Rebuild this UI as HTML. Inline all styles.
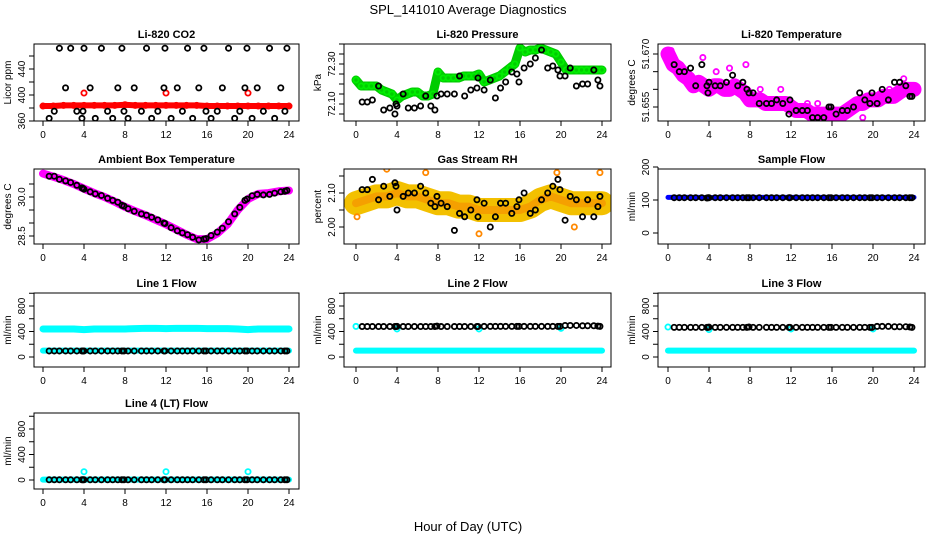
<!DOCTYPE html>
<html><head><meta charset="utf-8"><style>
html,body{margin:0;padding:0;background:#fff}
svg{display:block;font-family:"Liberation Sans",Arial,sans-serif}
</style></head><body>
<svg id="c" width="936" height="540" viewBox="0 0 936 540" xmlns="http://www.w3.org/2000/svg">
<text x="468" y="14" text-anchor="middle" font-size="13">SPL_141010  Average Diagnostics</text>
<text x="468" y="531" text-anchor="middle" font-size="13">Hour of Day (UTC)</text>
</svg>
<script>
const hrsB=[0.6,1.1,1.6,2.2,2.7,3.3,3.8,3.9,4.0,4.6,5.1,5.7,6.3,6.8,7.3,7.7,7.9,8.3,8.9,9.6,10.1,10.6,11.2,11.8,11.9,12.5,13.1,13.6,14.1,14.6,15.2,15.7,15.9,16.4,17.0,17.5,18.1,18.7,19.2,19.7,19.9,20.4,20.9,21.5,22.1,22.6,23.2,23.6,23.8];
const hrsHalf=[0,0.5,1,1.5,2,2.5,3,3.5,4,4.5,5,5.5,6,6.5,7,7.5,8,8.5,9,9.5,10,10.5,11,11.5,12,12.5,13,13.5,14,14.5,15,15.5,16,16.5,17,17.5,18,18.5,19,19.5,20,20.5,21,21.5,22,22.5,23,23.5,24];
const hrsHour=[0,1,2,3,4,5,6,7,8,9,10,11,12,13,14,15,16,17,18,19,20,21,22,23,24];
const xTicks=[0,4,8,12,16,20,24];

const co2C=[383,383,384,384,384,384,384,384,385,384,384,384,384,384,384,384,383,383,383,383,383,383,383,383,383];
const co2SpikeH=[4,12,20], co2SpikeV=[403,403,403];
const co2B=[364,375,472,411,472,375,364,375,472,411,364,472,375,364,411,472,375,364,411,375,472,364,375,411,472,364,411,375,472,364,411,472,375,364,375,411,472,364,375,411,472,364,411,375,472,364,411,375,472];

const pressC=[72.22,72.19,72.19,72.19,72.19,72.17,72.16,72.15,72.12,72.14,72.15,72.16,72.16,72.14,72.14,72.15,72.26,72.23,72.23,72.23,72.23,72.24,72.24,72.24,72.25,72.21,72.22,72.23,72.24,72.26,72.28,72.30,72.38,72.36,72.37,72.37,72.38,72.37,72.36,72.35,72.31,72.27,72.27,72.27,72.27,72.27,72.27,72.27,72.27];
const pressB=[72.11,72.11,72.12,72.19,72.07,72.08,72.05,72.10,72.09,72.15,72.08,72.08,72.09,72.14,72.09,72.07,72.14,72.15,72.15,72.15,72.24,72.14,72.17,72.18,72.23,72.17,72.22,72.13,72.18,72.21,72.26,72.25,72.21,72.28,72.30,72.33,72.37,72.28,72.29,72.27,72.24,72.24,72.28,72.19,72.20,72.20,72.27,72.22,72.19];

const tempC=[51.670,51.667,51.666,51.664,51.663,51.661,51.662,51.661,51.660,51.661,51.661,51.660,51.660,51.661,51.660,51.659,51.657,51.657,51.657,51.656,51.656,51.656,51.656,51.656,51.655,51.654,51.654,51.654,51.653,51.653,51.653,51.653,51.653,51.653,51.653,51.654,51.655,51.656,51.656,51.657,51.657,51.657,51.658,51.658,51.658,51.659,51.660,51.660,51.660];
const tempOutH=[0.3,1.2,3.4,4.7,6.0,7.6,9.0,11.0,13.6,14.6,19.0,21.6,23.0];
const tempOutV=[51.671,51.667,51.669,51.665,51.666,51.667,51.660,51.660,51.656,51.656,51.652,51.660,51.663];
const tempB=[51.667,51.665,51.665,51.666,51.661,51.667,51.661,51.659,51.662,51.661,51.661,51.662,51.664,51.661,51.662,51.660,51.659,51.659,51.656,51.656,51.656,51.657,51.656,51.653,51.657,51.654,51.654,51.654,51.652,51.652,51.652,51.655,51.655,51.653,51.654,51.654,51.655,51.659,51.657,51.656,51.659,51.656,51.660,51.657,51.662,51.662,51.661,51.658,51.658];

const ambC=[30.9,30.78,30.65,30.5,30.32,30.15,30.0,29.82,29.62,29.45,29.3,29.12,28.95,28.75,28.55,28.38,28.38,28.6,28.95,29.5,29.92,30.12,30.15,30.22,30.25];
const ambB=[30.8,30.8,30.68,30.62,30.56,30.45,30.35,30.33,30.3,30.2,30.12,30.06,29.95,29.87,29.8,29.68,29.65,29.55,29.45,29.35,29.3,29.22,29.12,29.0,28.98,28.82,28.7,28.62,28.55,28.45,28.35,28.38,28.4,28.52,28.65,28.8,29.05,29.35,29.6,29.87,29.92,30.05,30.1,30.08,30.1,30.15,30.2,30.22,30.25];

const rhC=[2.07,2.08,2.09,2.09,2.10,2.09,2.09,2.08,2.07,2.07,2.06,2.06,2.05,2.05,2.05,2.05,2.05,2.06,2.08,2.09,2.08,2.07,2.07,2.07,2.07];
const rhOutH=[0.1,3,6.8,7.9,12,15.9,19.6,23.8,21.3];
const rhOutV=[2.03,2.17,2.16,1.94,1.98,1.93,2.16,2.16,2.00];
const rhB=[2.11,2.11,2.14,2.08,2.12,2.09,2.13,2.12,2.05,2.09,2.10,2.10,2.12,2.10,2.07,2.06,2.09,2.07,2.06,1.99,2.04,2.03,2.05,2.08,2.03,2.07,2.00,2.03,2.07,2.07,2.04,2.06,2.08,2.10,2.04,2.05,2.08,2.10,2.12,2.14,2.11,2.02,2.09,2.08,2.03,2.08,2.03,2.06,2.09];

const sampC=[108,108,108,108,107,108,108,108,108,108,108,108,108,108,108,108,108,108,108,108,108,108,108,108,108];
const sampB=[107,107,107,107,107,107,106,107,107,107,107,107,107,107,107,107,107,107,107,107,107,107,107,107,107,107,107,107,107,107,107,107,107,107,107,107,107,107,107,107,107,107,107,107,107,107,107,107,107];

const l1Hi=[440,440,440,440,430,440,440,440,440,445,450,450,445,450,450,450,445,445,445,440,430,440,440,440,440];
const l1Lo=[100,100,100,100,100,100,100,100,100,100,100,100,100,100,100,100,100,100,100,100,100,100,100,100,100];
const l1B=[95,95,95,95,95,95,95,95,95,95,95,95,95,95,95,95,95,95,95,95,95,95,95,95,95,95,95,95,95,95,95,95,95,95,95,95,95,95,95,95,95,95,95,95,95,95,95,95,95];
const l2Lo=[100,100,100,100,100,100,100,100,100,100,100,100,100,100,100,100,100,100,100,100,100,100,100,100,100];
const l2HiH=[0,4,12,20], l2HiV=[480,440,440,450];
const l2B=[478,478,478,478,478,478,478,478,480,478,478,478,478,478,478,478,485,478,478,478,478,478,478,478,478,480,480,480,480,480,480,480,480,480,480,480,480,480,480,480,480,495,495,495,490,490,490,485,480];
const l3Lo=[100,100,100,100,100,100,100,100,100,100,100,100,100,100,100,100,100,100,100,100,100,100,100,100,100];
const l3HiH=[0,4,12,20], l3HiV=[470,430,440,440];
const l3B=[465,465,465,465,465,465,465,465,468,465,465,465,465,465,465,465,470,465,465,465,465,465,465,465,465,465,465,465,465,465,465,465,465,465,465,465,465,465,465,465,465,480,480,480,475,475,475,470,465];
const l4Lo=[5,5,5,5,5,5,5,5,5,5,5,5,5,5,5,5,5,5,5,5,5,5,5,5,5];
const l4SpH=[4,12,20], l4SpV=[130,130,130];
const l4B=[3,3,3,3,3,3,3,3,3,3,3,3,3,3,3,3,3,3,3,3,3,3,3,3,3,3,3,3,3,3,3,3,3,3,3,3,3,3,3,3,3,3,3,3,3,3,3,3,3];

const svg=document.getElementById('c');
const NS='http://www.w3.org/2000/svg';
function mk(tag,attrs,parent){const e=document.createElementNS(NS,tag);for(const k in attrs)e.setAttribute(k,attrs[k]);(parent||svg).appendChild(e);return e;}

const colL=[34,344,658],colR=[299,611,925],colX0=[43,356,668],colX24=[289,602,914];
const rowT=[44,169,293,413],rowB=[121,244,367,489];

function panel(o){
  const g=mk('g',{});
  
  
  const L=colL[o.c],R=colR[o.c],T=rowT[o.r],B=rowB[o.r];
  const xs=h=>colX0[o.c]+(colX24[o.c]-colX0[o.c])*h/24;
  const ys=v=>o.a[1]+(v-o.a[0])*(o.b[1]-o.a[1])/(o.b[0]-o.a[0]);
  const clip='cl'+o.name;
  const cp=mk('clipPath',{id:clip},g);mk('rect',{x:L,y:T,width:R-L,height:B-T},cp);
  const pg=mk('g',{'clip-path':'url(#'+clip+')'},g);
  o.draw(pg,xs,ys);
  const box=mk('rect',{x:L,y:T,width:R-L,height:B-T,fill:'none',stroke:'#000','stroke-width':1},g);
  
  
  const t=mk('text',{x:(L+R)/2,y:T-6,'text-anchor':'middle','font-size':11,'font-weight':'bold'},g);
  
  
  t.textContent=o.title;
  xTicks.forEach(h=>{const x=xs(h);mk('line',{x1:x,x2:x,y1:B,y2:B+5,stroke:'#000'},g);
    const tx=mk('text',{x:x,y:B+17,'text-anchor':'middle','font-size':10},g);
    
    
    tx.textContent=h;});
  mk('line',{x1:xs(0),x2:xs(24),y1:B,y2:B,stroke:'#000'},g);
  o.yt.forEach(v=>{const y=ys(v);mk('line',{x1:L,x2:L-5,y1:y,y2:y,stroke:'#000'},g);});
  mk('line',{x1:L,x2:L,y1:ys(o.yt[0]),y2:ys(o.yt[o.yt.length-1]),stroke:'#000'},g);
  o.yl.forEach((v,i)=>{const y=ys(v);const tx=mk('text',{x:L-9,y:y,'text-anchor':'middle','font-size':10,transform:'rotate(-90 '+(L-9)+' '+y+')'},g);
    
    
    tx.textContent=o.ylt[i];});
  const yc=(T+B)/2, yx=L-23;
  const yt=mk('text',{x:yx,y:yc,'text-anchor':'middle','font-size':10,transform:'rotate(-90 '+yx+' '+yc+')'},g);
  
  
  yt.textContent=o.ylab;
}
function band(g,H,V,xs,ys,col,w){
  const p=mk('polyline',{points:H.map((h,i)=>xs(h)+','+ys(V[i])).join(' '),fill:'none',stroke:col,'stroke-width':w,'stroke-linejoin':'round','stroke-linecap':'round'},g);
  
  
}
function pts(g,H,V,xs,ys,col,r,sw){
  V.forEach((v,i)=>{const c=mk('circle',{cx:xs(H[i]),cy:ys(v),r:r||2.6,fill:'none',stroke:col,'stroke-width':sw||1.8},g);
    
    });
}
const flowT=[0,200,400,600,800,1000], flowL=[0,400,800], flowLt=['0','400','800'];

panel({name:'co2-panel',c:0,r:0,title:'Li-820 CO2',ylab:'Licor ppm',a:[360,121],b:[440,69],yt:[360,380,400,420,440,460],yl:[360,400,440],ylt:['360','400','440'],
 draw:(g,xs,ys)=>{band(g,hrsHour,co2C,xs,ys,'#f00',6);pts(g,hrsHour,co2C,xs,ys,'#f00');pts(g,co2SpikeH,co2SpikeV,xs,ys,'#f00');pts(g,hrsB,co2B,xs,ys,'#000');}});
panel({name:'pressure-panel',c:1,r:0,title:'Li-820 Pressure',ylab:'kPa',a:[72.10,104],b:[72.30,64],yt:[72.05,72.10,72.15,72.20,72.25,72.30,72.35,72.40],yl:[72.10,72.30],ylt:['72.10','72.30'],
 draw:(g,xs,ys)=>{band(g,hrsHalf,pressC,xs,ys,'#0c0',9);pts(g,hrsHalf,pressC,xs,ys,'#0e0');pts(g,hrsB,pressB,xs,ys,'#000');}});
panel({name:'temperature-panel',c:2,r:0,title:'Li-820 Temperature',ylab:'degrees C',a:[51.655,107],b:[51.670,54],yt:[51.655,51.660,51.665,51.670],yl:[51.655,51.670],ylt:['51.655','51.670'],
 draw:(g,xs,ys)=>{band(g,hrsHalf,tempC,xs,ys,'#f0f',15);pts(g,hrsHalf,tempC,xs,ys,'#f0f');pts(g,tempOutH,tempOutV,xs,ys,'#f0f');pts(g,hrsB,tempB,xs,ys,'#000');}});
panel({name:'ambient-temp-panel',c:0,r:1,title:'Ambient Box Temperature',ylab:'degrees C',a:[28.5,236],b:[30.0,197],yt:[28.5,29,29.5,30,30.5],yl:[28.5,30.0],ylt:['28.5','30.0'],
 draw:(g,xs,ys)=>{band(g,hrsHour,ambC,xs,ys,'#f0f',8);pts(g,hrsB,ambB,xs,ys,'#000');}});
panel({name:'rh-panel',c:1,r:1,title:'Gas Stream RH',ylab:'percent',a:[2.00,227],b:[2.10,193],yt:[2.00,2.05,2.10,2.15],yl:[2.00,2.10],ylt:['2.00','2.10'],
 draw:(g,xs,ys)=>{band(g,hrsHour,rhC,xs,ys,'#f3c000',24);band(g,hrsHour,rhC,xs,ys,'#f5a000',8);pts(g,rhOutH,rhOutV,xs,ys,'#f80');pts(g,hrsB,rhB,xs,ys,'#000');}});
panel({name:'sample-flow-panel',c:2,r:1,title:'Sample Flow',ylab:'ml/min',a:[0,233],b:[200,167],yt:[0,100,200],yl:[0,100,200],ylt:['0','100','200'],
 draw:(g,xs,ys)=>{band(g,hrsHour,sampC,xs,ys,'#00f',5);pts(g,hrsB,sampB,xs,ys,'#000');}});
panel({name:'line1-flow-panel',c:0,r:2,title:'Line 1 Flow',ylab:'ml/min',a:[0,357],b:[800,306],yt:flowT,yl:flowL,ylt:flowLt,
 draw:(g,xs,ys)=>{band(g,hrsHour,l1Hi,xs,ys,'#0ff',7);band(g,hrsHour,l1Lo,xs,ys,'#0ff',6);pts(g,hrsB,l1B,xs,ys,'#000');}});
panel({name:'line2-flow-panel',c:1,r:2,title:'Line 2 Flow',ylab:'ml/min',a:[0,357],b:[800,306],yt:flowT,yl:flowL,ylt:flowLt,
 draw:(g,xs,ys)=>{band(g,hrsHour,l2Lo,xs,ys,'#0ff',6);pts(g,l2HiH,l2HiV,xs,ys,'#0ff');pts(g,hrsB,l2B,xs,ys,'#000');}});
panel({name:'line3-flow-panel',c:2,r:2,title:'Line 3 Flow',ylab:'ml/min',a:[0,357],b:[800,306],yt:flowT,yl:flowL,ylt:flowLt,
 draw:(g,xs,ys)=>{band(g,hrsHour,l3Lo,xs,ys,'#0ff',6);pts(g,l3HiH,l3HiV,xs,ys,'#0ff');pts(g,hrsB,l3B,xs,ys,'#000');}});
panel({name:'line4-flow-panel',c:0,r:3,title:'Line 4 (LT) Flow',ylab:'ml/min',a:[0,480],b:[800,429],yt:flowT,yl:flowL,ylt:flowLt,
 draw:(g,xs,ys)=>{band(g,hrsHour,l4Lo,xs,ys,'#0ff',6);pts(g,l4SpH,l4SpV,xs,ys,'#0ff');pts(g,hrsB,l4B,xs,ys,'#000');}});
</script>
</body></html>
